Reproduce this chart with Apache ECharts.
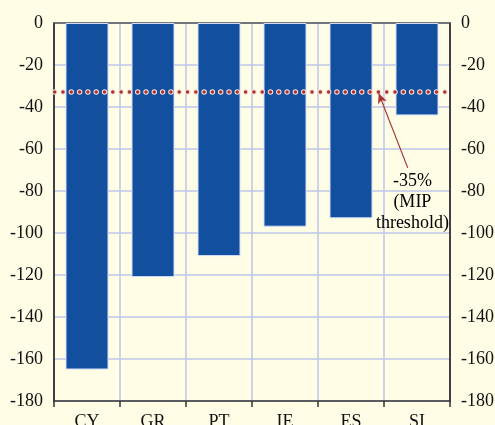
<!DOCTYPE html>
<html><head><meta charset="utf-8">
<script src="https://cdn.jsdelivr.net/npm/echarts@6/dist/echarts.min.js"></script>
<style>html,body{margin:0;padding:0;background:#fffde6}#c{width:495px;height:425px}</style>
</head><body><div id="c"></div>
<script>
const categories = ['CY', 'GR', 'PT', 'IE', 'ES', 'SI'];
const values = [-165, -121, -111, -97, -93, -44];
const threshold = -32.5;
const annotationText = ['-35%', '(MIP', 'threshold)'];
const arrowFrom = [5.36, -69];
const arrowTo = [4.92, -33.5];
const textAnchor = [5.43, -70.5];

const FONT = "'Liberation Serif','Times New Roman',serif";
const gridColor = '#bcc6e8';
const chart = echarts.init(document.getElementById('c'), null, {renderer: 'canvas'});
const yCommon = {
  type: 'value', min: -180, max: 0, interval: 20,
  axisLine: {show: true, lineStyle: {color: '#111', width: 1.5}},
  axisTick: {show: false},
  axisLabel: {fontFamily: FONT, fontSize: 18, color: '#111', margin: 11},
  splitLine: {show: false}
};
chart.setOption({
  backgroundColor: '#fffde6',
  animation: false,
  grid: {left: 54, right: 45, top: 23, bottom: 24, containLabel: false, outerBoundsMode: 'none'},
  xAxis: [
    {type: 'category', data: categories, position: 'bottom',
     axisLine: {show: true, onZero: false, lineStyle: {color: '#333', width: 1.5}},
     axisTick: {show: true, length: 6, inside: false, lineStyle: {color: '#333', width: 1.5}},
     axisLabel: {fontFamily: FONT, fontSize: 18, color: '#111', margin: 12},
     splitLine: {show: true, lineStyle: {color: gridColor, width: 1.5}}},
    {type: 'value', min: 0, max: 6, position: 'top', show: true,
     axisLine: {show: true, onZero: false, lineStyle: {color: '#555', width: 1.5}},
     axisTick: {show: false}, axisLabel: {show: false}, splitLine: {show: false}}
  ],
  yAxis: [
    Object.assign({}, yCommon, {position: 'left',
      splitLine: {show: true, lineStyle: {color: gridColor, width: 1.5}}}),
    Object.assign({}, yCommon, {position: 'right'})
  ],
  series: [
    {type: 'bar', data: values, xAxisIndex: 0, yAxisIndex: 0,
     barWidth: 43,
     itemStyle: {color: '#12509f', borderColor: '#d2ddf6', borderWidth: 1},
     markLine: {silent: true, symbol: 'none', label: {show: false},
       data: [
         {yAxis: threshold, lineStyle: {color: '#f3e2dc', width: 5.5, type: [0, 8.3], cap: 'round', dashOffset: -9}},
         {yAxis: threshold, lineStyle: {color: '#b03030', width: 3.5, type: [0, 8.3], cap: 'round', dashOffset: -9}}
       ]}
    },
    {type: 'scatter', xAxisIndex: 1, yAxisIndex: 0, symbolSize: 0,
     itemStyle: {opacity: 1},
     data: [textAnchor],
     label: {show: true, position: [0, 0], formatter: annotationText.join('\n'),
       fontFamily: FONT, fontSize: 18, color: '#000', opacity: 1, lineHeight: 21,
       verticalAlign: 'top', align: 'center'},
     markLine: {silent: true, symbol: ['none', 'arrow'], symbolSize: [7, 10],
       label: {show: false},
       lineStyle: {color: '#a83232', width: 1.2, type: 'solid'},
       data: [[{coord: arrowFrom}, {coord: arrowTo}]]}
    }
  ]
});
</script></body></html>
